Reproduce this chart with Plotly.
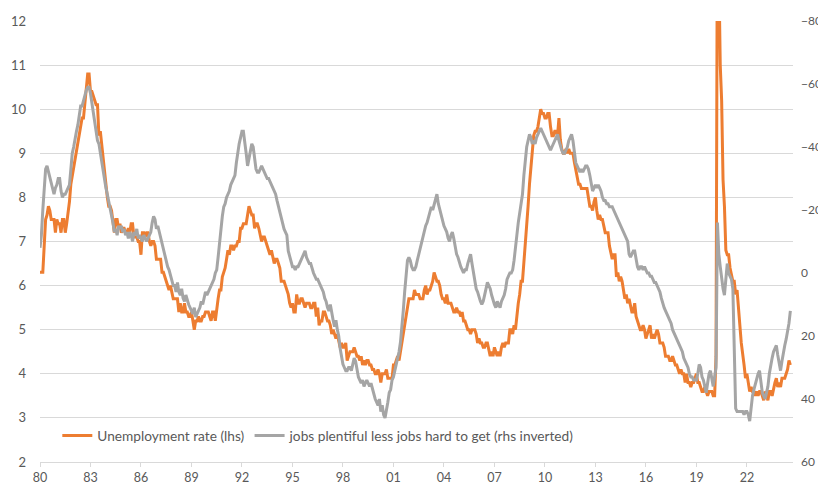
import plotly.graph_objects as go

start_year = 1980

# US unemployment rate, %, monthly from Jan 1980 (left axis)
unemployment_rate = [
    6.3, 6.3, 6.3, 6.9, 7.5, 7.6, 7.8, 7.7, 7.5, 7.5, 7.5, 7.2,   # 1980
    7.5, 7.4, 7.4, 7.2, 7.5, 7.5, 7.2, 7.4, 7.6, 7.9, 8.3, 8.5,   # 1981
    8.6, 8.9, 9.0, 9.3, 9.4, 9.6, 9.8, 9.8, 10.1, 10.4, 10.8, 10.8,  # 1982
    10.4, 10.4, 10.3, 10.2, 10.1, 10.1, 9.4, 9.5, 9.2, 8.8, 8.5, 8.3,  # 1983
    8.0, 7.8, 7.8, 7.7, 7.4, 7.2, 7.5, 7.5, 7.3, 7.4, 7.2, 7.3,   # 1984
    7.3, 7.2, 7.2, 7.3, 7.2, 7.4, 7.4, 7.1, 7.1, 7.1, 7.0, 7.0,   # 1985
    6.7, 7.2, 7.2, 7.1, 7.2, 7.2, 7.0, 6.9, 7.0, 7.0, 6.9, 6.6,   # 1986
    6.6, 6.6, 6.6, 6.3, 6.3, 6.2, 6.1, 6.0, 5.9, 6.0, 5.8, 5.7,   # 1987
    5.7, 5.7, 5.7, 5.4, 5.6, 5.4, 5.4, 5.6, 5.4, 5.4, 5.3, 5.3,   # 1988
    5.4, 5.2, 5.0, 5.2, 5.2, 5.3, 5.2, 5.2, 5.3, 5.3, 5.4, 5.4,   # 1989
    5.4, 5.3, 5.2, 5.4, 5.4, 5.2, 5.5, 5.7, 5.9, 5.9, 6.2, 6.3,   # 1990
    6.4, 6.6, 6.8, 6.7, 6.9, 6.9, 6.8, 6.9, 6.9, 7.0, 7.0, 7.3,   # 1991
    7.3, 7.4, 7.4, 7.4, 7.6, 7.8, 7.7, 7.6, 7.6, 7.3, 7.4, 7.4,   # 1992
    7.3, 7.1, 7.0, 7.1, 7.1, 7.0, 6.9, 6.8, 6.7, 6.8, 6.6, 6.5,   # 1993
    6.6, 6.6, 6.5, 6.4, 6.1, 6.1, 6.1, 6.0, 5.9, 5.8, 5.6, 5.5,   # 1994
    5.6, 5.4, 5.4, 5.8, 5.6, 5.6, 5.7, 5.7, 5.6, 5.5, 5.6, 5.6,   # 1995
    5.6, 5.5, 5.5, 5.6, 5.6, 5.3, 5.5, 5.1, 5.2, 5.2, 5.4, 5.4,   # 1996
    5.3, 5.2, 5.2, 5.1, 4.9, 5.0, 4.9, 4.8, 4.9, 4.7, 4.6, 4.7,   # 1997
    4.6, 4.6, 4.7, 4.3, 4.4, 4.5, 4.5, 4.5, 4.6, 4.5, 4.4, 4.4,   # 1998
    4.3, 4.4, 4.2, 4.3, 4.2, 4.3, 4.3, 4.2, 4.2, 4.1, 4.1, 4.0,   # 1999
    4.0, 4.1, 4.0, 3.8, 4.0, 4.0, 4.0, 4.1, 3.9, 3.9, 3.9, 3.9,   # 2000
    4.2, 4.2, 4.3, 4.4, 4.3, 4.5, 4.6, 4.9, 5.0, 5.3, 5.5, 5.7,   # 2001
    5.7, 5.7, 5.7, 5.9, 5.8, 5.8, 5.8, 5.7, 5.7, 5.7, 5.9, 6.0,   # 2002
    5.8, 5.9, 5.9, 6.0, 6.1, 6.3, 6.2, 6.1, 6.1, 6.0, 5.8, 5.7,   # 2003
    5.7, 5.6, 5.8, 5.6, 5.6, 5.6, 5.5, 5.4, 5.4, 5.5, 5.4, 5.4,   # 2004
    5.3, 5.4, 5.2, 5.2, 5.1, 5.0, 5.0, 4.9, 5.0, 5.0, 5.0, 4.9,   # 2005
    4.7, 4.8, 4.7, 4.7, 4.6, 4.6, 4.7, 4.7, 4.5, 4.4, 4.5, 4.4,   # 2006
    4.6, 4.5, 4.4, 4.5, 4.4, 4.6, 4.7, 4.6, 4.7, 4.7, 4.7, 5.0,   # 2007
    5.0, 4.9, 5.1, 5.0, 5.4, 5.6, 5.8, 6.1, 6.1, 6.5, 6.8, 7.3,   # 2008
    7.8, 8.3, 8.7, 9.0, 9.4, 9.5, 9.5, 9.6, 9.8, 10.0, 9.9, 9.9,  # 2009
    9.8, 9.8, 9.9, 9.9, 9.6, 9.4, 9.4, 9.5, 9.5, 9.4, 9.8, 9.3,   # 2010
    9.1, 9.0, 9.0, 9.1, 9.0, 9.1, 9.0, 9.0, 9.0, 8.8, 8.6, 8.5,   # 2011
    8.3, 8.3, 8.2, 8.2, 8.2, 8.2, 8.2, 8.0, 7.8, 7.8, 7.7, 7.9,   # 2012
    8.0, 7.7, 7.5, 7.6, 7.5, 7.5, 7.3, 7.2, 7.2, 7.2, 6.9, 6.7,   # 2013
    6.6, 6.7, 6.7, 6.2, 6.3, 6.1, 6.2, 6.1, 5.9, 5.7, 5.8, 5.6,   # 2014
    5.7, 5.5, 5.4, 5.4, 5.6, 5.3, 5.2, 5.1, 5.0, 5.0, 5.1, 5.0,   # 2015
    4.8, 4.9, 5.0, 5.1, 4.8, 4.9, 4.8, 4.9, 5.0, 4.9, 4.7, 4.7,   # 2016
    4.7, 4.6, 4.4, 4.4, 4.4, 4.3, 4.3, 4.4, 4.3, 4.2, 4.2, 4.1,   # 2017
    4.0, 4.1, 4.0, 4.0, 3.8, 4.0, 3.8, 3.8, 3.7, 3.8, 3.8, 3.9,   # 2018
    4.0, 3.8, 3.8, 3.7, 3.6, 3.6, 3.7, 3.6, 3.5, 3.6, 3.6, 3.6,   # 2019
    3.5, 3.5, 4.4, 14.8, 13.2, 11.0, 10.2, 8.4, 7.8, 6.8, 6.7, 6.7,  # 2020
    6.4, 6.2, 6.1, 6.1, 5.8, 5.9, 5.4, 5.1, 4.7, 4.5, 4.2, 3.9,   # 2021
    4.0, 3.8, 3.6, 3.7, 3.6, 3.6, 3.5, 3.6, 3.5, 3.6, 3.6, 3.5,   # 2022
    3.4, 3.6, 3.5, 3.4, 3.6, 3.6, 3.5, 3.7, 3.8, 3.9, 3.7, 3.8,   # 2023
    3.7, 3.9, 3.9, 3.9, 4.0, 4.1, 4.3, 4.2,                       # 2024
]

# Jobs plentiful less jobs hard to get, monthly from Jan 1980 (right axis, inverted)
labor_differential = [
    -8, -12, -20, -28, -33, -34, -32, -30, -28, -26, -25, -27,   # 1980
    -28, -30, -30, -26, -24, -25, -25, -26, -27, -28, -33, -38,  # 1981
    -40, -43, -45, -47, -50, -53, -53, -55, -57, -58, -59, -59,  # 1982
    -57, -54, -52, -49, -46, -42, -41, -38, -35, -32, -30, -27,  # 1983
    -25, -23, -21, -18, -16, -13, -14, -12, -15, -14, -15, -13,  # 1984
    -14, -12, -13, -11, -13, -12, -10, -13, -12, -14, -11, -12,  # 1985
    -11, -10, -12, -11, -10, -11, -12, -13, -16, -18, -17, -14,  # 1986
    -15, -13, -11, -9, -7, -6, -4, -2, -1, 1, 3, 4,              # 1987
    4, 6, 3, 6, 7, 5, 8, 9, 7, 9, 10, 11,                        # 1988
    12, 13, 11, 14, 13, 12, 11, 9, 10, 8, 6, 7,                  # 1989
    6, 5, 4, 3, 2, 0, -1, -5, -10, -14, -18, -21,                # 1990
    -22, -24, -25, -26, -28, -29, -30, -31, -35, -39, -41, -43,  # 1991
    -45, -45, -42, -38, -34, -36, -39, -41, -40, -37, -33, -32,  # 1992
    -32, -33, -34, -33, -32, -31, -30, -30, -29, -28, -27, -26,  # 1993
    -25, -23, -21, -19, -18, -16, -14, -13, -12, -7, -5, -3,     # 1994
    -2, -2, -1, -2, -2, -3, -4, -5, -6, -7, -5, -4,              # 1995
    -3, -3, -1, 0, 1, 2, 2, 3, 4, 5, 6, 8,                       # 1996
    9, 11, 12, 10, 13, 15, 17, 15, 18, 20, 24, 27,               # 1997
    29, 30, 31, 31, 30, 30, 31, 29, 27, 28, 31, 33,              # 1998
    34, 35, 34, 36, 35, 34, 35, 36, 35, 37, 39, 40,              # 1999
    41, 42, 40, 44, 42, 45, 46, 44, 41, 38, 37, 34,              # 2000
    33, 31, 29, 28, 25, 22, 18, 12, 6, 0, -4, -5,                # 2001
    -4, -2, -1, -1, -2, -4, -6, -7, -9, -12, -14, -15,           # 2002
    -16, -18, -19, -21, -20, -22, -23, -25, -22, -20, -18, -16,  # 2003
    -15, -14, -13, -11, -10, -12, -13, -11, -8, -6, -5, -3,      # 2004
    -2, -1, 0, -1, -1, -3, -5, -6, -3, 0, 3, 5,                  # 2005
    6, 8, 9, 10, 9, 7, 5, 3, 4, 5, 7, 9,                         # 2006
    10, 11, 9, 10, 11, 9, 8, 7, 5, 2, 1, 0,                      # 2007
    0, -1, -4, -9, -12, -16, -19, -22, -25, -31, -36, -40,       # 2008
    -42, -44, -43, -41, -42, -41, -43, -44, -45, -46, -45, -44,  # 2009
    -43, -42, -41, -40, -39, -40, -41, -42, -43, -44, -42, -40,  # 2010
    -39, -38, -38, -39, -40, -42, -43, -44, -42, -38, -35, -34,  # 2011
    -33, -32, -33, -32, -33, -34, -34, -33, -31, -28, -26, -27,  # 2012
    -28, -27, -28, -27, -26, -24, -23, -23, -22, -22, -21, -21,  # 2013
    -21, -20, -19, -18, -17, -16, -15, -14, -13, -12, -11, -10,  # 2014
    -6, -5, -6, -7, -7, -4, -2, -1, -2, -2, -1, -2,              # 2015
    -1, 0, 0, 1, 1, 2, 3, 3, 4, 5, 6, 8,                         # 2016
    10, 11, 12, 13, 14, 15, 16, 18, 19, 20, 21, 22,              # 2017
    23, 24, 25, 27, 28, 29, 30, 32, 33, 33, 34, 34,              # 2018
    34, 32, 29, 30, 33, 34, 36, 38, 35, 32, 31, 34,              # 2019
    36, 33, 30, -16, -6, -2, 2, 5, 7, 1, -3, 0,                  # 2020
    1, 2, 5, 20, 43, 44, 44, 44, 44, 44, 45, 44,                 # 2021
    44, 45, 47, 42, 39, 37, 35, 33, 32, 31, 35, 38,              # 2022
    39, 40, 38, 36, 32, 29, 27, 25, 24, 23, 26, 29,              # 2023
    31, 28, 25, 23, 21, 19, 16, 12,                              # 2024
]

tick_years = [1980, 1983, 1986, 1989, 1992, 1995, 1998, 2001, 2004, 2007, 2010, 2013, 2016, 2019, 2022]
tick_labels = ["80", "83", "86", "89", "92", "95", "98", "01", "04", "07", "10", "13", "16", "19", "22"]

ORANGE = "#ED7D31"
GREY = "#A5A5A5"
TEXT = "#595959"
GRID = "#D9D9D9"
FONT = "Lato"

x_u = [start_year + i / 12 for i in range(len(unemployment_rate))]
x_d = [start_year + i / 12 for i in range(len(labor_differential))]

fig = go.Figure()
fig.add_trace(go.Scatter(
    x=x_u, y=unemployment_rate, mode="lines", name="Unemployment rate (lhs)",
    line=dict(color=ORANGE, width=3), yaxis="y",
))
fig.add_trace(go.Scatter(
    x=x_d, y=labor_differential, mode="lines",
    name="jobs plentiful less jobs hard to get (rhs inverted)",
    line=dict(color=GREY, width=3), yaxis="y2",
))

# The page places the figure 8px in from the top-left corner, so the figure is
# sized and margined to put the plot area where the reference has it.
fig.update_layout(
    width=818, height=476,
    margin=dict(l=32, r=33, t=13, b=22),
    paper_bgcolor="white", plot_bgcolor="white",
    font=dict(family=FONT, size=13, color=TEXT),
    showlegend=True,
    legend=dict(
        orientation="h", x=0.023, xanchor="left", y=0.06, yanchor="middle",
        bgcolor="rgba(0,0,0,0)", font=dict(family=FONT, size=13.7, color=TEXT),
        itemwidth=30, tracegroupgap=0,
    ),
    xaxis=dict(
        range=[1980, 2024.74], tickmode="array", tickvals=tick_years, ticktext=tick_labels,
        showgrid=False, zeroline=False, showline=True, linecolor=GRID, linewidth=1,
        ticks="outside", ticklen=4, tickcolor=GRID, tickwidth=1,
        tickfont=dict(family=FONT, size=12.5, color=TEXT), ticklabelstandoff=0,
        automargin=False,
    ),
    yaxis=dict(
        range=[2, 12], dtick=1, showgrid=True, gridcolor=GRID, gridwidth=1,
        zeroline=False, showline=False, ticks="",
        tickfont=dict(family=FONT, size=13, color=TEXT), ticklabelstandoff=13,
        automargin=False,
    ),
    yaxis2=dict(
        range=[60, -80], dtick=20, overlaying="y", side="right",
        showgrid=False, zeroline=False, showline=False, ticks="",
        tickfont=dict(family=FONT, size=12, color=TEXT), ticklabelstandoff=7,
        automargin=False,
    ),
)

fig.write_html("out.html")
